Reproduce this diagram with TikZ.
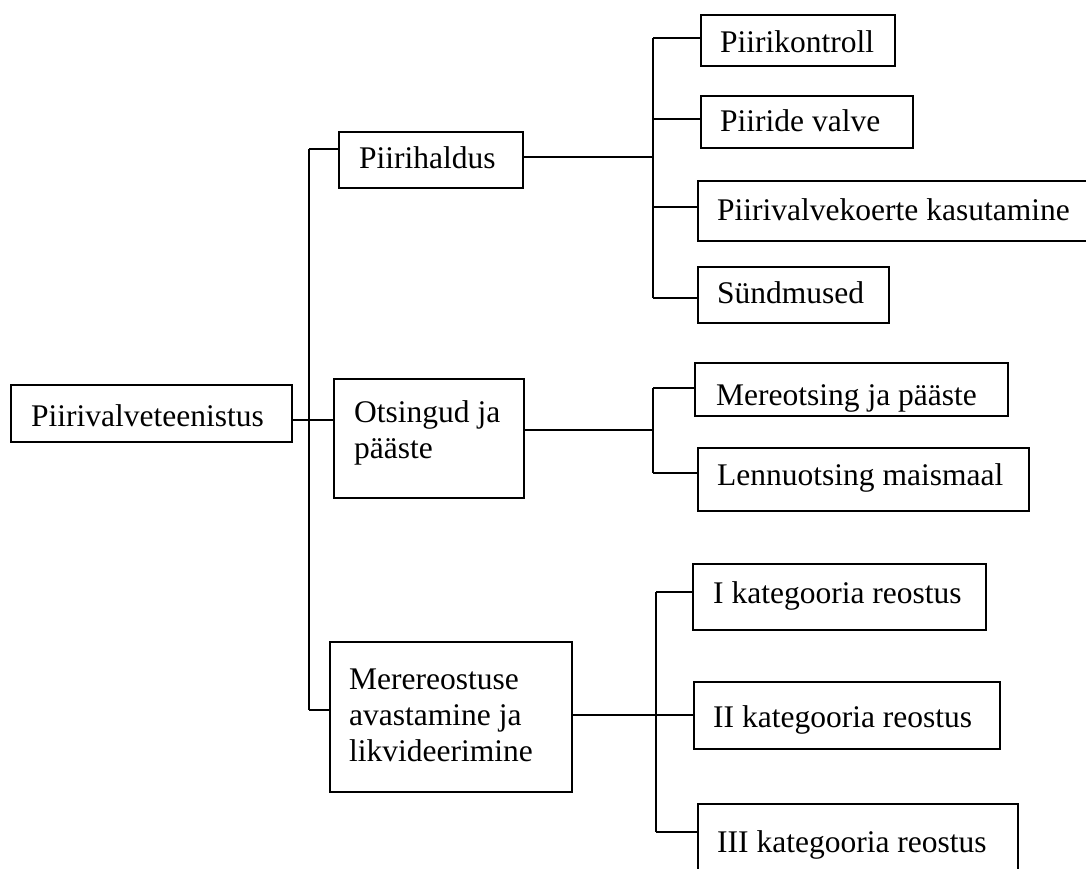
\documentclass[tikz,border=0pt]{standalone}
\usepackage{fontspec}
\setmainfont{Liberation Serif}
\newcommand\mybox[8]{%
  \node[box, anchor=north west, minimum width={#4-#2}, minimum height={#5-#3}] (#1) at (#2,#3) {};
  \node[lbl] (#1t) at (#6,#7) {#8};}
\begin{document}
\begin{tikzpicture}[x=1pt,y=-1pt,
  box/.style={draw, rectangle, line width=2.2pt, inner sep=0pt},
  lbl/.style={anchor=base west, inner sep=0pt, align=left, font=\fontsize{31.5}{36}\selectfont},
  conn/.style={draw, line width=2.2pt}]
\useasboundingbox (0,0) rectangle (1086,869);
\clip (0,0) rectangle (1086,869);

% boxes
\mybox{root}{10}{384}{291}{441}{31}{426}{Piirivalveteenistus}
\mybox{hald}{338}{131}{522}{187}{359}{169}{Piirihaldus}
\mybox{ots}{333}{378}{523}{497}{354}{458}{Otsingud ja\\pääste}
\mybox{mere}{329}{641}{571}{791}{349}{761}{Merereostuse\\avastamine ja\\likvideerimine}
\mybox{pk}{700}{14}{894}{65}{720}{53}{Piirikontroll}
\mybox{pv}{700}{95}{912}{147}{720}{132}{Piiride valve}
\mybox{pkk}{697}{180}{1100}{240}{717}{220}{Piirivalvekoerte kasutamine}
\mybox{snd}{697}{266}{888}{322}{717}{303}{Sündmused}
\mybox{mo}{694}{362}{1007}{415}{716}{405}{Mereotsing ja pääste}
\mybox{lo}{697}{447}{1028}{510}{717}{485}{Lennuotsing maismaal}
\mybox{ka}{692}{563}{985}{629}{713}{603}{I kategooria reostus}
\mybox{kb}{693}{681}{999}{748}{713}{727}{II kategooria reostus}
\mybox{kc}{697}{803}{1017}{890}{717}{852}{III kategooria reostus}

% main trunk
\coordinate (tt) at (309,149);
\coordinate (tm) at (309,420);
\coordinate (tb) at (309,710);
\draw[conn] (tt) -- (tb);
\draw[conn] (tt) -- (tt -| hald.west);
\draw[conn] (tb) -- (tb -| mere.west);
\draw[conn] (tm -| root.east) -- (tm -| ots.west);

% bracket 1
\coordinate (a0) at (653,38);
\coordinate (a1) at (653,119);
\coordinate (am) at (653,157);
\coordinate (a2) at (653,207);
\coordinate (a3) at (653,298);
\draw[conn] (a0) -- (a3);
\draw[conn] (am -| hald.east) -- (am);
\draw[conn] (a0) -- (a0 -| pk.west);
\draw[conn] (a1) -- (a1 -| pv.west);
\draw[conn] (a2) -- (a2 -| pkk.west);
\draw[conn] (a3) -- (a3 -| snd.west);

% bracket 2
\coordinate (b0) at (653,388);
\coordinate (bm) at (653,430);
\coordinate (b1) at (653,473);
\draw[conn] (b0) -- (b1);
\draw[conn] (bm -| ots.east) -- (bm);
\draw[conn] (b0) -- (b0 -| mo.west);
\draw[conn] (b1) -- (b1 -| lo.west);

% bracket 3
\coordinate (c0) at (656,592);
\coordinate (cm) at (656,715);
\coordinate (c1) at (656,832);
\draw[conn] (c0) -- (c1);
\draw[conn] (cm -| mere.east) -- (cm -| kb.west);
\draw[conn] (c0) -- (c0 -| ka.west);
\draw[conn] (c1) -- (c1 -| kc.west);
\end{tikzpicture}
\end{document}
